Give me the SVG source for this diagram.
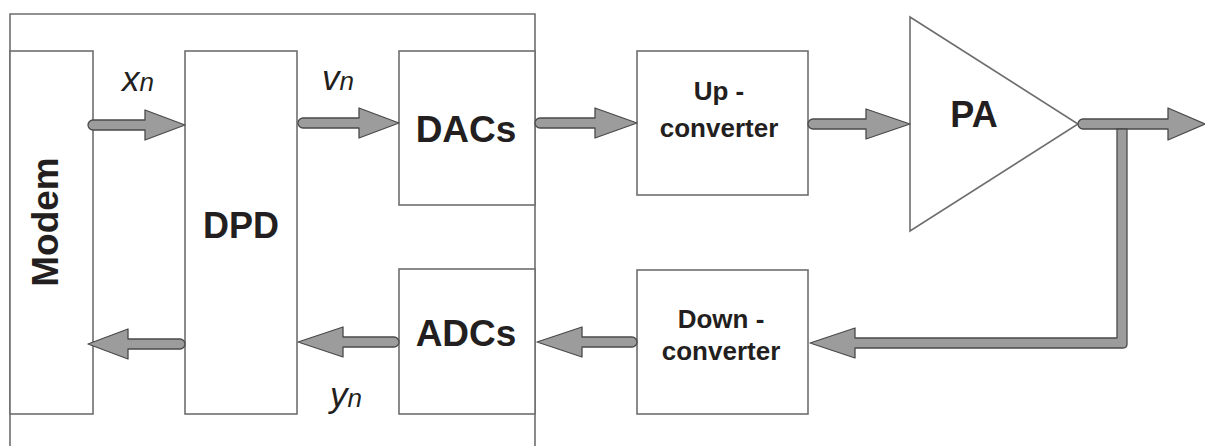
<svg xmlns="http://www.w3.org/2000/svg" width="1205" height="446" viewBox="0 0 1205 446">
<style>
.box{fill:#fff;stroke:#6e6e6e;stroke-width:1.6}
.frame{fill:none;stroke:#6e6e6e;stroke-width:1.6}
.arr{fill:#9c9c9c;stroke:#4a4a4a;stroke-width:1.3;stroke-linejoin:round}
.lbl{font-family:"Liberation Sans",Arial,sans-serif;font-weight:bold;fill:#231f20;text-anchor:middle}
.sym{font-family:"Liberation Sans",Arial,sans-serif;font-style:italic;fill:#231f20}
</style>
<rect width="1205" height="446" fill="#fff"/>
<path class="frame" d="M10,446 V14 H535 V446"/>
<g id="modem">
<rect class="box" x="10" y="51" width="83" height="363"/>
<text class="lbl" font-size="37" transform="translate(58,222) rotate(-90)">Modem</text>
</g>
<g id="dpd">
<rect class="box" x="185" y="51" width="112" height="363"/>
<text class="lbl" x="241" y="238" font-size="36">DPD</text>
</g>
<g id="dacs">
<rect class="box" x="399" y="51" width="136" height="154"/>
<text class="lbl" x="466" y="142" font-size="37">DACs</text>
</g>
<g id="adcs">
<rect class="box" x="399" y="269" width="136" height="145"/>
<text class="lbl" x="466" y="346" font-size="37">ADCs</text>
</g>
<g id="upconverter">
<rect class="box" x="637" y="51" width="171" height="144"/>
<text class="lbl" x="719" y="100" font-size="26">Up -</text>
<text class="lbl" x="719" y="137" font-size="26">converter</text>
</g>
<g id="downconverter">
<rect class="box" x="637" y="270" width="171" height="144"/>
<text class="lbl" x="721" y="328" font-size="26">Down -</text>
<text class="lbl" x="721" y="360" font-size="26">converter</text>
</g>
<g id="pa">
<polygon class="box" points="910,17 1078,124 910,231"/>
<text class="lbl" x="974" y="127" font-size="36">PA</text>
</g>
<g id="labels">
<text class="sym" x="122" y="91"><tspan font-size="35">x</tspan><tspan font-size="26">n</tspan></text>
<text class="sym" x="322" y="90"><tspan font-size="35">v</tspan><tspan font-size="26">n</tspan></text>
<text class="sym" x="330" y="407"><tspan font-size="35">y</tspan><tspan font-size="26">n</tspan></text>
</g>
<g id="connectors">
<path class="arr" d="M93,120 H145 V110 L185,125 L145,140 V130 H93 A5,5 0 0 1 93,120 Z"/>
<path class="arr" d="M303,118 H359 V108 L399,123 L359,138 V128 H303 A5,5 0 0 1 303,118 Z"/>
<path class="arr" d="M540,118 H595 V108 L637,123 L595,138 V128 H540 A5,5 0 0 1 540,118 Z"/>
<path class="arr" d="M813,119 H866 V109 L910,124 L866,139 V129 H813 A5,5 0 0 1 813,119 Z"/>
<path class="arr" d="M1083,119 H1168 V108 L1205,124 L1168,140 V129 H1083 A5,5 0 0 1 1083,119 Z"/>
<path class="arr" d="M1117,129 H1127 V344 Q1127,348 1123,348 H855 V358 L810,343 L855,328 V338 H1117 Z"/>
<path class="arr" d="M632,337 H582 V327 L537,342 L582,357 V347 H632 A5,5 0 0 0 632,337 Z"/>
<path class="arr" d="M394,337 H343 V327 L298,342 L343,357 V347 H394 A5,5 0 0 0 394,337 Z"/>
<path class="arr" d="M180,339 H128 V329 L88,344 L128,359 V349 H180 A5,5 0 0 0 180,339 Z"/>
</g>
</svg>
